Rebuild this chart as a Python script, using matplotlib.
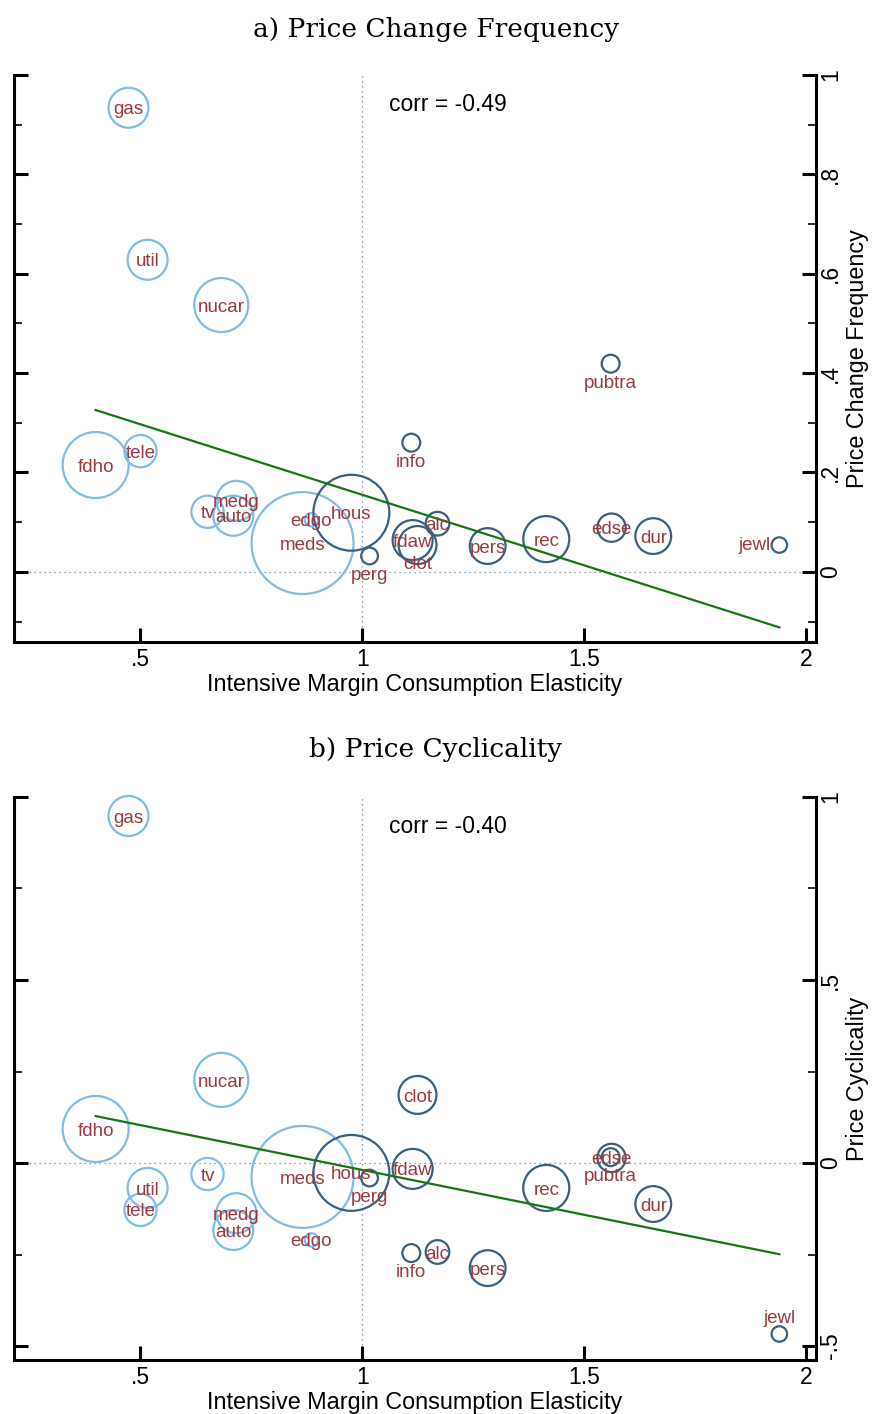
import numpy as np
import matplotlib
matplotlib.use("Agg")
import matplotlib.pyplot as plt

# categories and values
cats = ['gas', 'util', 'nucar', 'pubtra', 'info', 'tele', 'fdho', 'tv', 'medg', 'auto', 'edgo',
        'meds', 'hous', 'perg', 'fdaw', 'clot', 'alc', 'pers', 'rec', 'edse', 'dur', 'jewl']
elast = [0.473, 0.516, 0.682, 1.559, 1.110, 0.500, 0.399, 0.651, 0.716, 0.709, 0.885,
         0.865, 0.975, 1.016, 1.113, 1.124, 1.169, 1.282, 1.414, 1.561, 1.655, 1.939]
freq = [0.934, 0.628, 0.537, 0.419, 0.260, 0.243, 0.215, 0.121, 0.143, 0.113, 0.105,
        0.058, 0.119, 0.032, 0.064, 0.054, 0.097, 0.052, 0.066, 0.089, 0.072, 0.054]
cyc = [0.948, -0.068, 0.227, 0.016, -0.246, -0.128, 0.093, -0.030, -0.137, -0.183, -0.210,
       -0.038, -0.027, -0.041, -0.016, 0.186, -0.243, -0.287, -0.068, 0.014, -0.112, -0.467]
weight = [4.0, 4.0, 7.3, 0.8, 0.8, 2.6, 10.9, 2.6, 4.0, 4.0, 0.45,
          26.0, 14.4, 0.7, 4.0, 3.6, 1.4, 3.2, 5.3, 2.0, 3.2, 0.6]
light = ['gas', 'util', 'nucar', 'tele', 'fdho', 'tv', 'medg', 'auto', 'edgo', 'meds']

fit_a = (0.439, -0.284)   # intercept, slope
fit_b = (0.226, -0.245)
corr_a = -0.49
corr_b = -0.40

LIGHT = '#7fbde8'
DARK = '#3b5f7e'
LAB = '#9a3a40'
GREEN = '#13780f'
REF = '#6b86a3'

# label placement (like stata mlabpos)
pos_a = {'pubtra': 'below', 'info': 'below', 'perg': 'below', 'clot': 'below', 'jewl': 'left'}
pos_b = {'perg': 'below', 'info': 'below', 'pubtra': 'below', 'jewl': 'above'}

plt.rcParams['font.family'] = ['Liberation Sans', 'DejaVu Sans']

fig = plt.figure(figsize=(8.72, 14.14), dpi=100)


def panel(rect, yvals, fit, corr, pos, ylim, major, minor, ylab, title, title_y):
    ax = fig.add_axes(rect)
    x = np.array(elast)
    y = np.array(yvals)
    w = np.array(weight)
    d_pt = 2 * 10 * np.sqrt(w) * 0.72
    cols = [LIGHT if c in light else DARK for c in cats]
    ax.axvline(1, color=REF, ls=(0, (1, 3)), lw=0.9, zorder=1)
    ax.axhline(0, color=REF, ls=(0, (1, 3)), lw=0.9, zorder=1)
    ax.scatter(x, y, s=d_pt ** 2, facecolors='none', edgecolors=cols, linewidths=1.6,
               zorder=2, clip_on=False)
    xl = np.array([x.min(), x.max()])
    ax.plot(xl, fit[0] + fit[1] * xl, color=GREEN, lw=1.6, zorder=3)
    for c, xi, yi in zip(cats, x, y):
        p = pos.get(c, 'c')
        off, ha = (0, -1.5), 'center'
        if p == 'below':
            off = (0, -14)
        elif p == 'above':
            off = (0, 11.5)
        elif p == 'left':
            off, ha = (-6.5, -0.5), 'right'
        ax.annotate(c, (xi, yi), xytext=off, textcoords='offset points', ha=ha, va='center',
                    color=LAB, fontsize=13.5, zorder=4)
    ax.text(1.059, ylim[1] - 0.052 * (ylim[1] - ylim[0]), 'corr = %.2f' % corr, fontsize=16.5,
            ha='left', va='center')
    ax.set_xlim(0.215, 2.022)
    ax.set_ylim(*ylim)
    ax.spines['top'].set_visible(False)
    for s in ['left', 'right', 'bottom']:
        ax.spines[s].set_linewidth(2.2)
    ax.set_xticks([0.5, 1, 1.5, 2])
    ax.set_xticklabels(['.5', '1', '1.5', '2'])
    ax.set_yticks(major)
    ax.set_yticks(minor, minor=True)
    ax.set_yticklabels([('%g' % v).replace('0.', '.') for v in major])
    ax.yaxis.set_ticks_position('both')
    ax.tick_params(axis='y', which='major', direction='in', length=10, width=2.2,
                   labelleft=False, labelright=True, labelrotation=90, labelsize=16.5, pad=2)
    ax.tick_params(axis='y', which='minor', direction='in', length=6, width=1.2,
                   left=True, right=True)
    ax.tick_params(axis='x', which='major', direction='in', length=10, width=2.2,
                   labelsize=16.5, pad=4)
    for t in ax.get_yticklabels():
        t.set_va('center')
    ax.yaxis.set_label_position('right')
    ax.set_ylabel(ylab, fontsize=16.8, labelpad=3)
    ax.set_xlabel('Intensive Margin Consumption Elasticity', fontsize=16.8, labelpad=2)
    fig.text(0.5, title_y, title, ha='center', va='center', fontsize=19,
             family=['DejaVu Serif'])
    return ax


panel([0.016, 0.546, 0.920, 0.401], freq, fit_a, corr_a, pos_a, (-0.141, 1.0),
      [0, 0.2, 0.4, 0.6, 0.8, 1.0], [-0.1, 0.1, 0.3, 0.5, 0.7, 0.9],
      'Price Change Frequency', 'a) Price Change Frequency', 1 - 30 / 1414)
panel([0.016, 0.0382, 0.920, 0.3982], cyc, fit_b, corr_b, pos_b, (-0.538, 1.0),
      [-0.5, 0, 0.5, 1.0], [-0.25, 0.25, 0.75],
      'Price Cyclicality', 'b) Price Cyclicality', 1 - 750 / 1414)

fig.savefig('out.png', dpi=100)
